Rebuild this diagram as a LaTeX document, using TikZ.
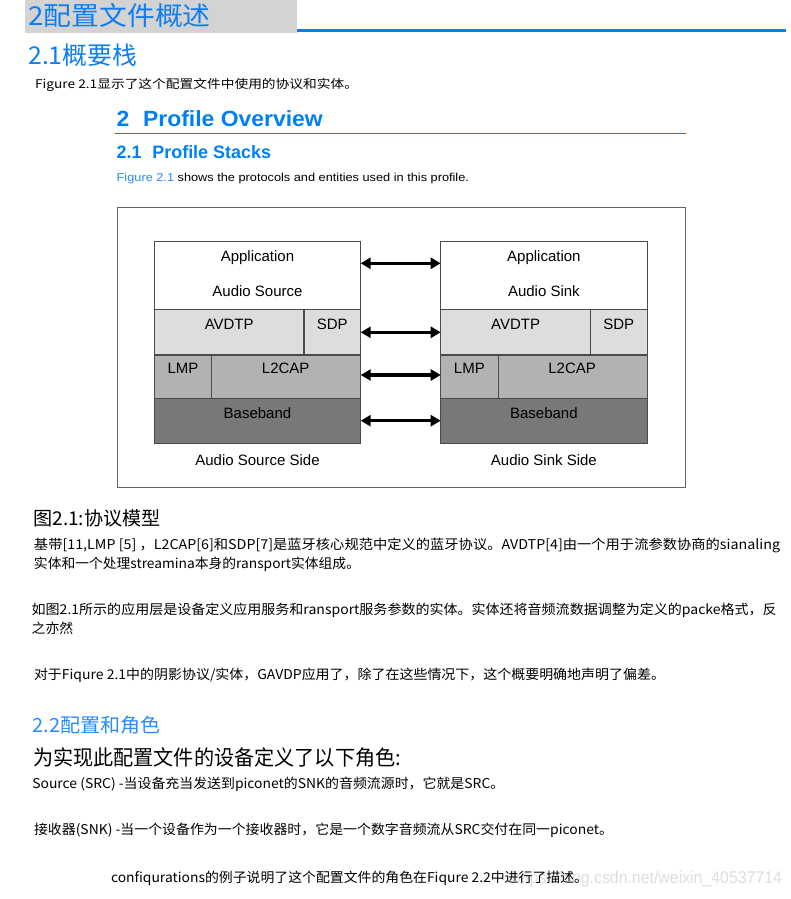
\documentclass[tikz,border=0pt]{standalone}
\usepackage{fontspec}
\usepackage{graphicx}
\setmainfont{Liberation Sans}
\newfontfamily\cjk{Noto Sans CJK SC}
\usetikzlibrary{arrows.meta}
\definecolor{hblue}{RGB}{15,125,240}
\definecolor{eblue}{RGB}{0,128,245}
\definecolor{lblue}{RGB}{40,140,250}
\definecolor{barGray}{RGB}{211,211,211}
\definecolor{cellLight}{RGB}{221,221,221}
\definecolor{cellMid}{RGB}{178,178,178}
\definecolor{cellDark}{RGB}{120,120,120}
\definecolor{cellBorder}{RGB}{75,75,75}
\definecolor{frameGray}{RGB}{100,100,100}
\definecolor{wmark}{RGB}{222,222,222}
\newcommand\fitw[2]{\resizebox{#1}{\height}{#2}}
\newcommand\fs[1]{\fontsize{#1}{#1}\selectfont}
\begin{document}
\begin{tikzpicture}[x=1pt,y=-1pt,
  txt/.style={anchor=base west, inner sep=0pt, outer sep=0pt},
  ctr/.style={anchor=base, inner sep=0pt, outer sep=0pt, font=\fs{15}},
  cell/.style={draw=cellBorder, line width=1.2pt, inner sep=0pt, outer sep=0pt, anchor=north west},
  arr/.style={line width=3.2pt, {Triangle[length=10pt,width=11pt]}-{Triangle[length=10pt,width=11pt]}}]
\useasboundingbox (0,0) rectangle (791,899);
\fill[white] (0,0) rectangle (791,899);

% watermark (behind)
\node[txt, text=wmark] (wm) at (512,883) {\fitw{270pt}{\fs{17}https://blog.csdn.net/weixin\_40537714}};

% title bar
\node[fill=barGray, inner sep=0pt, anchor=north west, minimum width=272pt, minimum height=32.7pt] (bar) at (25,0) {};
\draw[hblue, line width=3pt] (297,30.5) -- (786,30.5);
\node[txt, text=hblue] (t1) at (28.3,26) {\fitw{182.4pt}{\cjk\fs{26}2配置文件概述}};
\node[txt, text=hblue] (t2) at (28.3,64) {\fitw{109pt}{\cjk\fs{24.5}2.1概要栈}};
\node[txt] (t3) at (35,88.5) {\fitw{323pt}{\cjk\fs{12}Figure 2.1显示了这个配置文件中使用的协议和实体。}};

% English headings
\node[txt, text=eblue] (e1) at (116.7,126.7) {\fitw{206pt}{\bfseries\fs{22}2\hspace{0.6em}Profile Overview}};
\draw[eblue, line width=1.3pt] (115,133.7) -- (686,133.7);
\node[txt, text=eblue] (e2) at (116.7,158.3) {\fitw{154.3pt}{\bfseries\fs{18}2.1\hspace{0.6em}Profile Stacks}};
\node[txt] (e3) at (116.7,181) {\fitw{352.3pt}{\fs{11.5}{\color{lblue}Figure 2.1} shows the protocols and entities used in this profile.}};

% diagram frame
\node[draw=frameGray, line width=1pt, inner sep=0pt, anchor=north west, minimum width=567.7pt, minimum height=279.4pt] (frame) at (117.3,207.3) {};

\foreach \s/\dx/\role/\side/\sw in {l/0/Audio Source/Audio Source Side/125pt, r/286.4/Audio Sink/Audio Sink Side/108pt}{
  \node[cell, fill=white, minimum width=206.4pt, minimum height=67.6pt] (\s app) at (154.3+\dx,241.7) {};
  \node[cell, fill=cellLight, minimum width=149.7pt, minimum height=45.7pt] (\s avdtp) at (154.3+\dx,309.3) {};
  \node[cell, fill=cellLight, minimum width=56.7pt, minimum height=45.7pt] (\s sdp) at (304+\dx,309.3) {};
  \node[cell, fill=cellMid, minimum width=57.4pt, minimum height=43.3pt] (\s lmp) at (154.3+\dx,355) {};
  \node[cell, fill=cellMid, minimum width=149pt, minimum height=43.3pt] (\s ltwo) at (211.7+\dx,355) {};
  \node[cell, fill=cellDark, minimum width=206.4pt, minimum height=45pt] (\s bb) at (154.3+\dx,398.3) {};
  \node[ctr] (\s appT) at (257.5+\dx,261.7) {Application};
  \node[ctr] (\s roleT) at (257.5+\dx,296) {\role};
  \node[ctr] (\s avdtpT) at (229.2+\dx,329.3) {AVDTP};
  \node[ctr] (\s sdpT) at (332.3+\dx,329.3) {SDP};
  \node[ctr] (\s lmpT) at (183+\dx,373.3) {LMP};
  \node[ctr] (\s ltwoT) at (285.7+\dx,373.3) {L2CAP};
  \node[ctr] (\s bbT) at (257.5+\dx,418.3) {Baseband};
  \node[ctr, font=\fs{15}] (\s sideT) at (257.5+\dx,465) {\side};
}

\coordinate (y1) at (0,263.3);
\coordinate (y2) at (0,332.3);
\coordinate (y3) at (0,375);
\coordinate (y4) at (0,420.7);
\draw[arr] (lapp.east |- y1) -- (rapp.west |- y1);
\draw[arr] (lsdp.east |- y2) -- (ravdtp.west |- y2);
\draw[arr] (lltwo.east |- y3) -- (rlmp.west |- y3);
\draw[arr] (lbb.east |- y4) -- (rbb.west |- y4);

% Chinese body text
\node[txt] (p0) at (33.3,525) {\fitw{127.4pt}{\cjk\fs{19}图2.1:协议模型}};
\node[txt] (p1) at (34,549) {\fitw{746pt}{\cjk\fs{13.5}基带[11,LMP [5] ，L2CAP[6]和SDP[7]是蓝牙核心规范中定义的蓝牙协议。AVDTP[4]由一个用于流参数协商的sianaling}};
\node[txt] (p2) at (34,568) {\fitw{326pt}{\cjk\fs{13.5}实体和一个处理streamina本身的ransport实体组成。}};
\node[txt] (p3) at (31.7,614) {\fitw{745pt}{\cjk\fs{13.5}如图2.1所示的应用层是设备定义应用服务和ransport服务参数的实体。实体还将音频流数据调整为定义的packe格式，反}};
\node[txt] (p4) at (31.7,633) {\fitw{41.6pt}{\cjk\fs{13.5}之亦然}};
\node[txt] (p5) at (34,679) {\fitw{631pt}{\cjk\fs{13.5}对于Fiqure 2.1中的阴影协议/实体，GAVDP应用了，除了在这些情况下，这个概要明确地声明了偏差。}};
\node[txt, text=lblue] (p6) at (32.7,732) {\fitw{128pt}{\cjk\fs{19.5}2.2配置和角色}};
\node[txt] (p7) at (33,765) {\fitw{368pt}{\cjk\fs{21}为实现此配置文件的设备定义了以下角色:}};
\node[txt] (p8) at (32.3,788) {\fitw{472pt}{\cjk\fs{13.5}Source (SRC) -当设备充当发送到piconet的SNK的音频流源时，它就是SRC。}};
\node[txt] (p9) at (34,834) {\fitw{579pt}{\cjk\fs{13.5}接收器(SNK) -当一个设备作为一个接收器时，它是一个数字音频流从SRC交付在同一piconet。}};
\node[txt] (p10) at (111,882.7) {\fitw{477pt}{\cjk\fs{13.5}confiqurations的例子说明了这个配置文件的角色在Fiqure 2.2中进行了描述。}};
\end{tikzpicture}
\end{document}
